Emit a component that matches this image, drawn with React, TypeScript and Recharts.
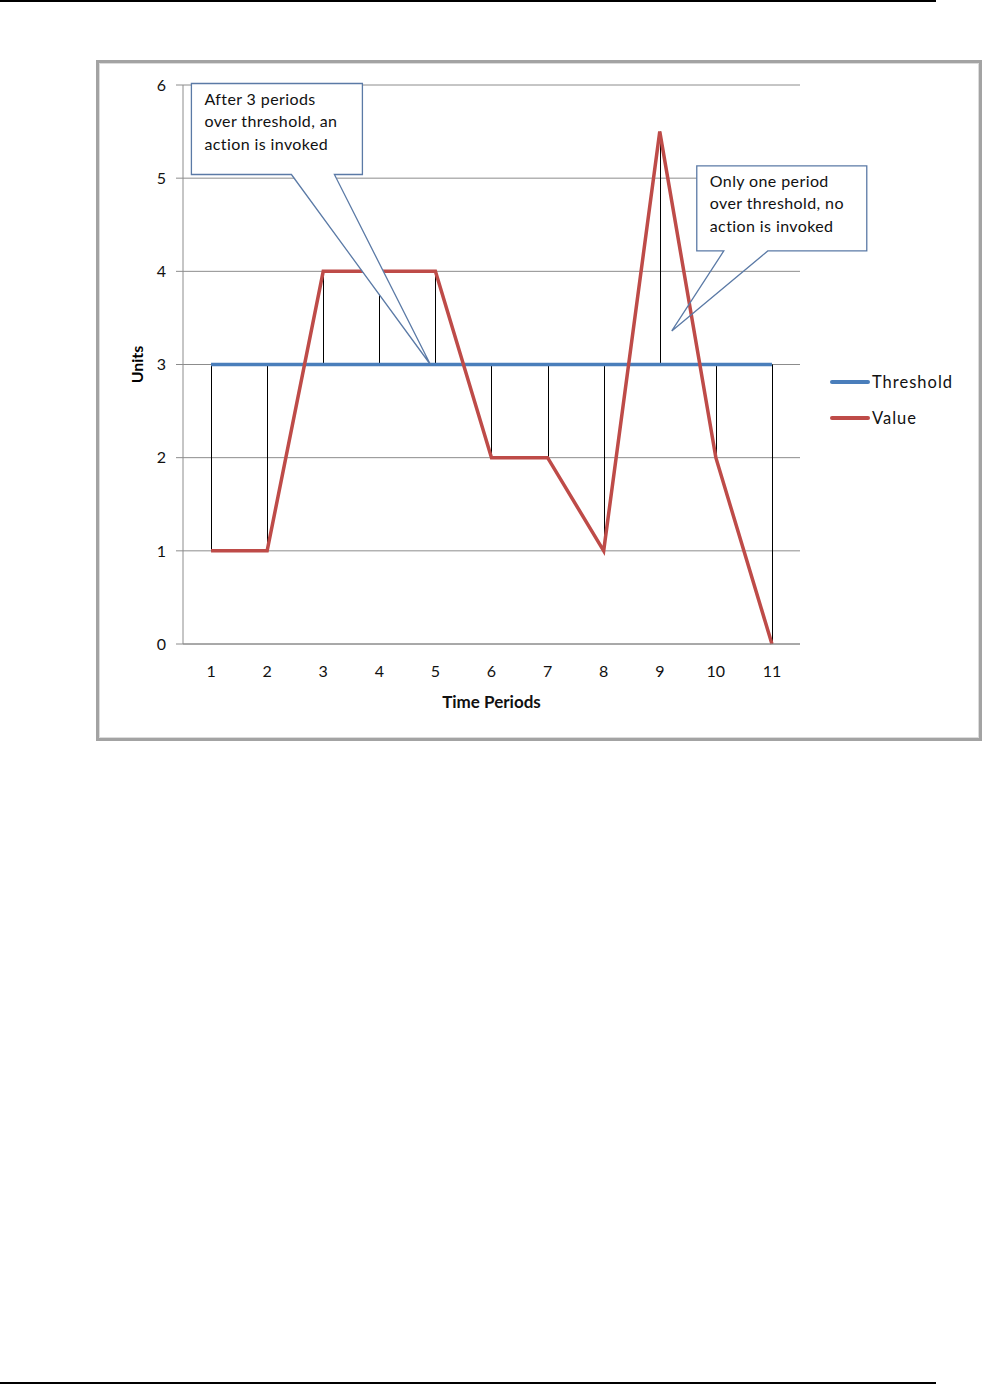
import React from 'react';
import {
  ComposedChart, Line, Bar, XAxis, YAxis, CartesianGrid, Legend, ReferenceDot,
} from 'recharts';

const periods = ['1', '2', '3', '4', '5', '6', '7', '8', '9', '10', '11'];
const thresholdValues = [3, 3, 3, 3, 3, 3, 3, 3, 3, 3, 3];
const valueValues = [1, 1, 4, 4, 4, 2, 2, 1, 5.5, 2, 0];
const unitTicks = [0, 1, 2, 3, 4, 5, 6];

const calloutOne = ['After 3 periods', 'over threshold, an', 'action is invoked'];
const calloutTwo = ['Only one period', 'over threshold, no', 'action is invoked'];

const data = periods.map((p, i) => ({
  period: p,
  Threshold: thresholdValues[i],
  Value: valueValues[i],
  drop: [Math.min(thresholdValues[i], valueValues[i]), Math.max(thresholdValues[i], valueValues[i])],
}));

const FONT = 'Lato, "Open Sans", sans-serif';
const CALLOUT_STROKE = '#5b7aa6';

// speech bubble: box + pointer, positioned relative to the pointer tip
function Callout(props: any) {
  const { cx, cy, dx, box, bases, lines, fillPointer } = props;
  const tx = cx + dx;
  const ty = cy;
  const [l, t, r, b] = [tx + box[0], ty + box[1], tx + box[2], ty + box[3]];
  const [b1, b2] = [tx + bases[0], tx + bases[1]];
  const outline = `M${b1},${b} L${l},${b} L${l},${t} L${r},${t} L${r},${b} L${b2},${b} L${tx},${ty} Z`;
  return (
    <g>
      <rect x={l} y={t} width={r - l} height={b - t} fill="#fff" />
      {fillPointer && <path d={`M${b1},${b - 1} L${tx},${ty} L${b2},${b - 1} Z`} fill="#fff" />}
      <path d={outline} fill="none" stroke={CALLOUT_STROKE} strokeWidth={1.3} strokeLinejoin="miter" />
      {lines.map((s: string, i: number) => (
        <text key={i} x={l + 13} y={t + 21 + i * 22.5} fontFamily={FONT} fontSize={16}
          letterSpacing={0.4} fill="#111">
          {s}
        </text>
      ))}
    </g>
  );
}

// thin black drop line between threshold and value
function DropLine(props: any) {
  const { x, y, width, height } = props;
  if (height == null || !isFinite(height)) return null;
  const cx = Math.round(x + width / 2) + 0.5;
  return <line x1={cx} x2={cx} y1={y} y2={y + height} stroke="#000" strokeWidth={1} />;
}

function LegendBox({ payload }: any) {
  const items = (payload || []).filter((p: any) => p.type !== 'none' && p.value !== 'drop');
  return (
    <div style={{ fontFamily: FONT }}>
      {items.map((p: any) => (
        <div key={p.value} style={{ display: 'flex', alignItems: 'center', height: 36 }}>
          <span style={{ display: 'inline-block', width: 40, height: 4, borderRadius: 2, background: p.color, marginRight: 2 }} />
          <span style={{ fontSize: 16.5, color: '#111', letterSpacing: 1 }}>{p.value}</span>
        </div>
      ))}
    </div>
  );
}

export default function App() {
  return (
    <div style={{ position: 'absolute', left: 0, top: 0, width: 983, height: 1384, background: '#fff' }}>
      <div style={{ position: 'absolute', left: 0, top: 0, width: 936, height: 1.5, background: '#000' }} />
      <div style={{ position: 'absolute', left: 0, top: 1382, width: 936, height: 1.5, background: '#000' }} />
      <div
        style={{
          position: 'absolute', left: 96, top: 60, width: 880, height: 675,
          border: '3px solid #a3a3a3', boxShadow: 'inset 0 0 0 1px #dcdcdc',
        }}
      />
      <div style={{ position: 'absolute', left: 96, top: 60 }}>
        <ComposedChart
          width={886}
          height={682}
          data={data}
          margin={{ top: 25, right: 52, left: 0, bottom: 0 }}
          style={{ fontFamily: FONT }}
        >
          <CartesianGrid vertical={false} stroke="#8c8c8c" strokeWidth={1} />
          <XAxis
            dataKey="period"
            height={98}
            stroke="#8c8c8c"
            tickLine={false}
            tickSize={0}
            tickMargin={22}
            tick={{ fill: '#111', fontSize: 16 }}
            label={{
              content: ({ viewBox }: any) => (
                <text x={viewBox.x + viewBox.width / 2} y={viewBox.y + 64} textAnchor="middle"
                  fontFamily={FONT} fontSize={17} fontWeight="bold" fill="#111">Time Periods</text>
              ),
            }}
          />
          <YAxis
            width={87}
            domain={[0, 6]}
            ticks={unitTicks}
            stroke="#8c8c8c"
            tickSize={7}
            tickMargin={10}
            tick={{ fill: '#111', fontSize: 16 }}
            label={{
              content: ({ viewBox }: any) => {
                const x = viewBox.x + 47;
                const y = viewBox.y + viewBox.height / 2;
                return (
                  <text x={x} y={y} transform={`rotate(-90 ${x} ${y})`} textAnchor="middle"
                    fontFamily={FONT} fontSize={16} fontWeight="bold" fill="#000">Units</text>
                );
              },
            }}
          />
          <Legend
            layout="vertical"
            align="right"
            verticalAlign="top"
            wrapperStyle={{ left: 734, top: 304, width: 130 }}
            content={<LegendBox />}
          />
          <Line dataKey="Threshold" stroke="#4a7ebb" strokeWidth={3.5} dot={false} isAnimationActive={false} />
          <Bar dataKey="drop" barSize={2} fill="#000" legendType="none" shape={<DropLine />} isAnimationActive={false} />
          <Line dataKey="Value" stroke="#be4b48" strokeWidth={3.5} dot={false} strokeLinejoin="miter" isAnimationActive={false} />
          <ReferenceDot
            x="5"
            y={3}
            shape={(p: any) => (
              <Callout {...p} dx={-5} box={[-239, -281, -68, -190]} bases={[-139, -96]} lines={calloutOne} fillPointer />
            )}
          />
          <ReferenceDot
            x="9"
            y={3.36}
            shape={(p: any) => (
              <Callout {...p} dx={12} box={[25, -165, 195, -80]} bases={[52, 96]} lines={calloutTwo} fillPointer={false} />
            )}
          />
        </ComposedChart>
      </div>
    </div>
  );
}
